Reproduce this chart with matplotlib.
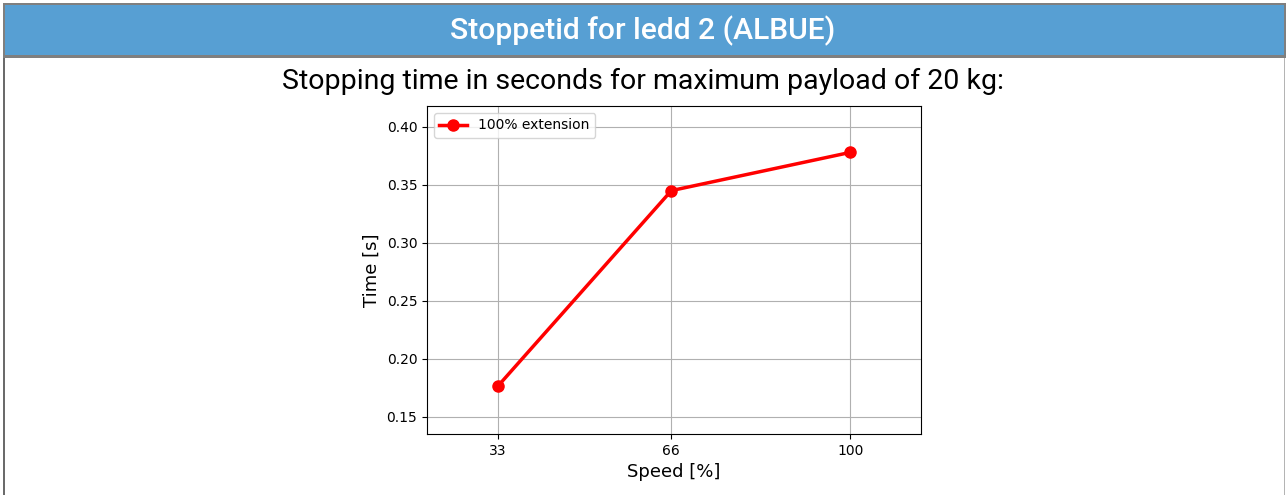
"""Stopping time vs speed for joint 2 (elbow), max payload."""

import matplotlib.pyplot as plt
from matplotlib.patches import Rectangle

speed = [33, 66, 100]
stop_time = [0.176, 0.345, 0.378]
series_label = "100% extension"
header_title = "Stoppetid for ledd 2 (ALBUE)"
subtitle = "Stopping time in seconds for maximum payload of 20 kg:"

W, H = 1286, 495
fig = plt.figure(figsize=(W / 100, H / 100), dpi=100)

# header bar + frame, drawn in pixel coords converted to figure fractions
def px_rect(x0, y0, x1, y1, color):
    fig.patches.append(Rectangle((x0 / W, 1 - y1 / H), (x1 - x0) / W, (y1 - y0) / H,
                                 transform=fig.transFigure, facecolor=color,
                                 edgecolor="none", zorder=0))

px_rect(3, 3, 1286, 56, "#7f7f7f")
px_rect(5, 5, 1284, 55, "#579fd3")
px_rect(3, 55, 1286, 58, "#7f7f7f")
px_rect(3, 58, 5, H, "#6b6b6b")
px_rect(1284, 58, 1285, H, "#b4b4b4")

fig.text(0.5, 1 - 31 / H, header_title, ha="center", va="center",
         color="white", fontsize=21.6, family="Roboto", weight="medium")
fig.text(0.5, 1 - 81.5 / H, subtitle, ha="center", va="center",
         color="black", fontsize=20.5, family="Roboto")

ax = fig.add_axes([427 / W, 1 - 434 / H, (921 - 427) / W, (434 - 106) / H])
ax.plot(speed, stop_time, color="red", linewidth=2.5, marker="o",
        markersize=8, label=series_label)
ax.set_xticks(speed)
ax.set_xlim(19.6, 113.4)
ax.set_ylim(0.135, 0.418)
ax.set_yticks([0.15, 0.20, 0.25, 0.30, 0.35, 0.40])
ax.tick_params(labelsize=10)
ax.set_xlabel("Speed [%]", fontsize=13)
ax.set_ylabel("Time [s]", fontsize=13)
ax.grid(True)
ax.legend(loc="upper left", fontsize=10)

fig.savefig("out.png", dpi=100)
